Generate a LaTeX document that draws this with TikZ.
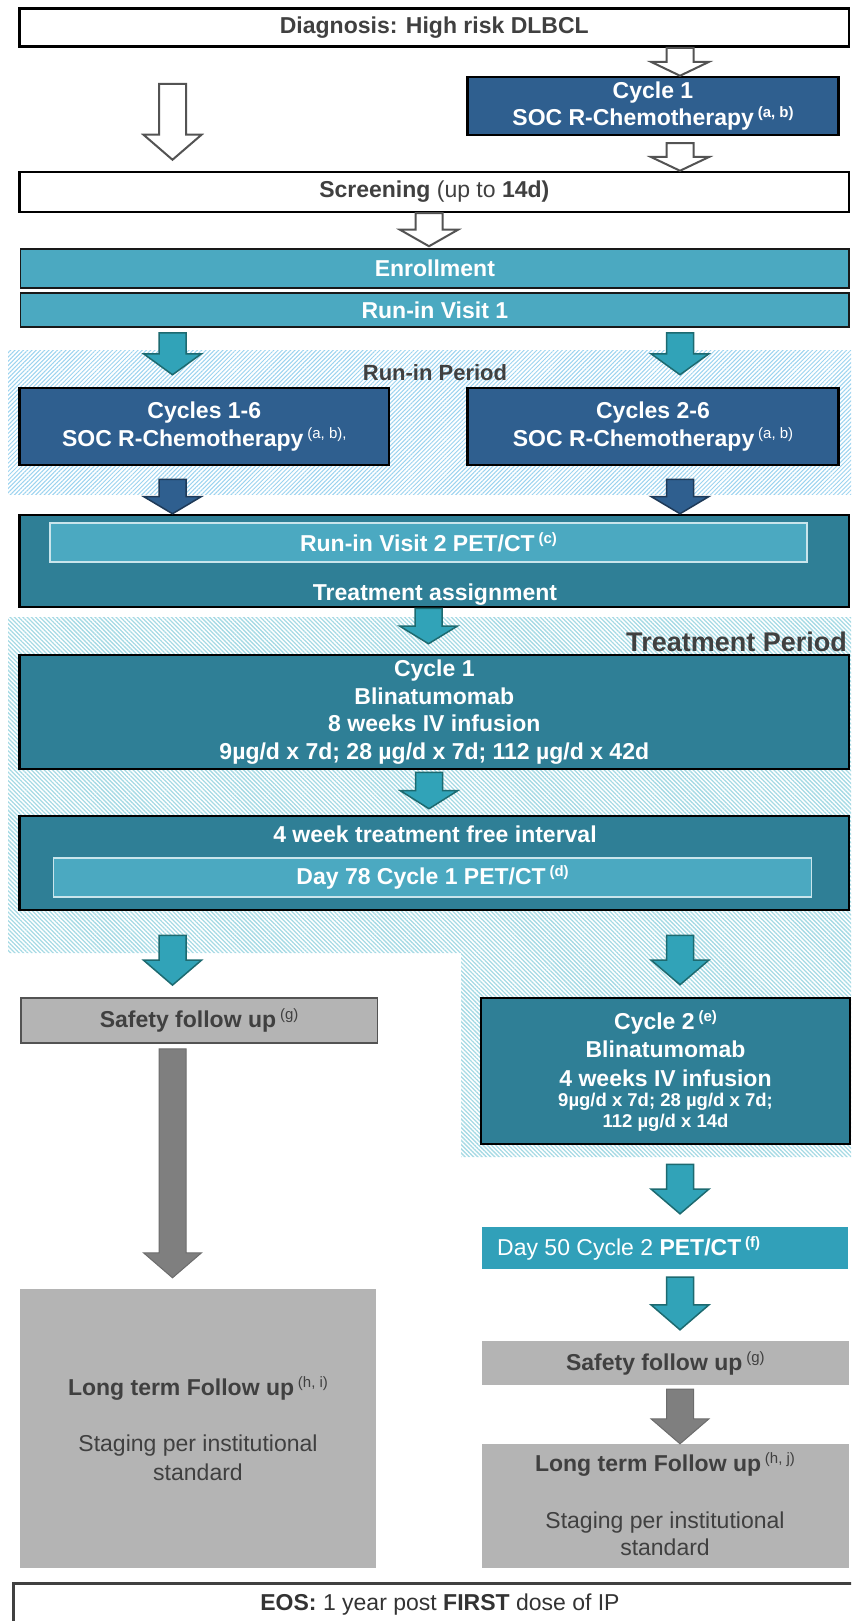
\documentclass[tikz,border=0pt]{standalone}
\usepackage{fontspec}
\setmainfont{Liberation Sans}
\usetikzlibrary{calc,patterns.meta}

\definecolor{socblue}{HTML}{2F5F8F}
\definecolor{tealdk}{HTML}{2F7F96}
\definecolor{teallt}{HTML}{4BA9C1}
\definecolor{tealpet}{HTML}{31A0B9}
\definecolor{arrteal}{HTML}{31A3B8}
\definecolor{arrtealedge}{HTML}{1D6A70}
\definecolor{arrblueedge}{HTML}{1E3A58}
\definecolor{boxgray}{HTML}{B4B4B4}
\definecolor{arrgray}{HTML}{7F7F7F}
\definecolor{txtgray}{HTML}{404040}
\definecolor{hatchrun}{HTML}{9CD3EF}
\definecolor{hatchtrt}{HTML}{A6DAE4}

% footnote marks
\newcommand\sups[1]{\raisebox{8pt}{\fontsize{15}{15}\selectfont #1}}

% block arrow from a top point down to a tip point
\newcommand\blockarrow[3][]{%
  \path #2 coordinate (ba-s);
  \path #3 coordinate (ba-e);
  \draw[#1] let \p1=(ba-s), \p2=(ba-e), \n1={min(25,(\y1-\y2)/2)} in
    (\x1-13.5pt,\y1) -- (\x1+13.5pt,\y1) -- (\x1+13.5pt,\y2+\n1*1pt)
    -- (\x1+29pt,\y2+\n1*1pt) -- (\x2,\y2) -- (\x1-29pt,\y2+\n1*1pt)
    -- (\x1-13.5pt,\y2+\n1*1pt) -- cycle;
}

\tikzset{
  base/.style={font=\fontsize{23}{27.7}\selectfont\bfseries, align=center, inner sep=0pt},
  whitebox/.style={base, draw=black, line width=2.5pt, fill=white, text=txtgray},
  bluebox/.style={base, draw=black, line width=2.5pt, fill=socblue, text=white},
  tealbox/.style={base, draw=black, line width=2.5pt, fill=tealdk, text=white},
  ltbox/.style={base, draw=black!90, line width=1.5pt, fill=teallt, text=white},
  innerbox/.style={base, draw=white!70!teallt, line width=1.2pt, fill=teallt, text=white},
  graybox/.style={base, fill=boxgray, text=txtgray},
  wtext/.style={base, text=white},
  gtext/.style={base, text=txtgray},
  lbl/.style={base, text=txtgray, font=\fontsize{22}{26}\selectfont\bfseries},
  hollowarrow/.style={fill=white, draw=txtgray!90, line width=2pt},
  tealarrow/.style={fill=arrteal, draw=arrtealedge, line width=1.5pt},
  bluearrow/.style={fill=socblue, draw=arrblueedge, line width=1.5pt},
  grayarrow/.style={fill=arrgray, draw=arrgray!85!black, line width=1pt},
}

\begin{document}
\begin{tikzpicture}[x=1pt,y=-1pt]
\clip (0,0) rectangle (851,1621);
\useasboundingbox (0,0) rectangle (851,1621);

% hatched period backgrounds
\fill[pattern={Lines[angle=45,distance=3pt,line width=1pt]}, pattern color=hatchrun]
  (8,350) rectangle (851,494);
\fill[pattern={Lines[angle=-45,distance=3pt,line width=1.3pt]}, pattern color=hatchtrt]
  (8,617) -- (851,617) -- (851,1157) -- (461,1157) -- (461,953) -- (8,953) -- cycle;

% diagnosis and screening
\node[whitebox, minimum width=829.4pt, minimum height=38.4pt] (diag) at (434.3,27.5)
  {Diagnosis: High risk DLBCL};
\node[bluebox, minimum width=371pt, minimum height=58pt] (cyc1a) at (653,106)
  {Cycle 1\\SOC R-Chemotherapy\,\sups{(a, b)}};
\node[whitebox, minimum width=829.4pt, minimum height=40pt] (screen) at (434.3,192)
  {Screening {\mdseries(up to} 14d)};

\node[ltbox, minimum width=828.3pt, minimum height=39pt] (enroll) at (434.85,268.5) {Enrollment};
\node[ltbox, minimum width=828.3pt, minimum height=34pt] (rv1) at (434.85,310) {Run-in Visit 1};

% run-in period
\node[lbl] (runinlbl) at (435,373) {Run-in Period};
\node[bluebox, minimum width=369.4pt, minimum height=77pt] (cyc16) at (204.3,426.5)
  {Cycles 1-6\\SOC R-Chemotherapy\,\sups{\mdseries(a, b),}};
\node[bluebox, minimum width=371pt, minimum height=77pt] (cyc26) at (653,426.5)
  {Cycles 2-6\\SOC R-Chemotherapy\,\sups{\mdseries(a, b)}};

\node[tealbox, minimum width=829.4pt, minimum height=92pt] (rv2) at (434.3,561) {};
\node[innerbox, minimum width=757pt, minimum height=39pt] (rv2pet) at (428.5,542.5)
  {Run-in Visit 2 PET/CT\,\sups{(c)}};
\node[wtext] (assign) at (435,595) {Treatment assignment};

% treatment period
\node[lbl, font=\fontsize{27}{30}\selectfont\bfseries, anchor=east] (tplbl) at (847,642) {Treatment Period};
\node[tealbox, minimum width=829.4pt, minimum height=114pt] (blin1) at (434.3,712)
  {Cycle 1\\Blinatumomab\\8 weeks IV infusion\\9µg/d x 7d; 28 µg/d x 7d; 112 µg/d x 42d};
\node[tealbox, minimum width=829.4pt, minimum height=94pt] (tfi) at (434.3,863) {};
\node[wtext] (tfitxt) at (435,834) {4 week treatment free interval};
\node[innerbox, minimum width=758.2pt, minimum height=39pt] (d78) at (432.6,877.5)
  {Day 78 Cycle 1 PET/CT\,\sups{(d)}};

% left branch
\node[graybox, draw=txtgray!90, line width=1.8pt, minimum width=356.8pt, minimum height=45pt]
  (safe1) at (199.1,1020.5) {Safety follow up\,\sups{\mdseries(g)}};
\node[graybox, minimum width=356pt, minimum height=279pt] (lt1) at (198,1428.5) {};
\node[gtext] (lt1a) at (198,1388) {Long term Follow up\,\sups{\mdseries(h, i)}};
\node[gtext, font=\fontsize{23}{29}\selectfont] (lt1b) at (198,1457.5) {Staging per institutional\\standard};

% right branch
\node[tealbox, minimum width=369pt, minimum height=146pt] (cyc2) at (665.5,1071) {};
\node[wtext, font=\fontsize{23}{28.5}\selectfont\bfseries] (cyc2a) at (665.5,1048.5)
  {Cycle 2\,\sups{(e)}\\Blinatumomab\\4 weeks IV infusion};
\node[wtext, font=\fontsize{18.5}{21}\selectfont\bfseries] (cyc2b) at (665.5,1112.5)
  {9µg/d x 7d; 28 µg/d x 7d;\\112 µg/d x 14d};
\node[fill=tealpet, minimum width=366pt, minimum height=42pt, inner sep=0pt] (d50) at (665,1248) {};
\node[wtext, anchor=west] (d50txt) at (497,1248) {{\mdseries Day 50 Cycle 2} PET/CT\,\sups{(f)}};
\node[graybox, minimum width=367.3pt, minimum height=44pt] (safe2) at (665.35,1363)
  {Safety follow up\,\sups{\mdseries(g)}};
\node[graybox, minimum width=367.3pt, minimum height=124pt] (lt2) at (665.35,1506) {};
\node[gtext] (lt2a) at (665,1464) {Long term Follow up\,\sups{\mdseries(h, j)}};
\node[gtext, font=\fontsize{23}{27}\selectfont] (lt2b) at (665,1533.5) {Staging per institutional\\standard};

% end of study
\node[draw=txtgray, line width=3pt, fill=white, minimum width=870pt, minimum height=80pt,
  inner sep=0pt, anchor=north west] (eos) at (12,1582) {};
\node[base, text=black!80] (eostxt) at (440,1605) {EOS: {\mdseries 1 year post} FIRST {\mdseries dose of IP}};

% connectors
\blockarrow[hollowarrow]{(680,0 |- diag.south)}{(680,0 |- cyc1a.north)}
\blockarrow[hollowarrow]{($(172.5,0 |- diag.south)+(0,36)$)}{($(172.5,0 |- screen.north)+(0,-11)$)}
\blockarrow[hollowarrow]{($(680,0 |- cyc1a.south)+(0,7)$)}{(680,0 |- screen.north)}
\blockarrow[hollowarrow]{(429,0 |- screen.south)}{($(429,0 |- enroll.north)+(0,-2)$)}

\blockarrow[tealarrow]{($(172.5,0 |- rv1.south)+(0,5)$)}{($(172.5,0 |- cyc16.north)+(0,-12)$)}
\blockarrow[tealarrow]{($(680,0 |- rv1.south)+(0,5)$)}{($(680,0 |- cyc26.north)+(0,-12)$)}

\blockarrow[bluearrow]{($(172.5,0 |- cyc16.south)+(0,13)$)}{(172.5,0 |- rv2.north)}
\blockarrow[bluearrow]{($(680,0 |- cyc26.south)+(0,13)$)}{(680,0 |- rv2.north)}

\blockarrow[tealarrow]{(428.5,0 |- rv2.south)}{($(428.5,0 |- blin1.north)+(0,-10)$)}
\blockarrow[tealarrow]{($(429,0 |- blin1.south)+(0,2)$)}{($(429,0 |- tfi.north)+(0,-6)$)}

\blockarrow[tealarrow]{($(172.5,0 |- tfi.south)+(0,24)$)}{($(172.5,0 |- safe1.north)+(0,-12)$)}
\blockarrow[tealarrow]{($(680,0 |- tfi.south)+(0,24)$)}{($(680,0 |- cyc2.north)+(0,-12)$)}

\blockarrow[grayarrow]{($(172.5,0 |- safe1.south)+(0,5)$)}{($(172.5,0 |- lt1.north)+(0,-11)$)}

\blockarrow[tealarrow]{($(680,0 |- cyc2.south)+(0,19)$)}{($(680,0 |- d50.north)+(0,-13)$)}
\blockarrow[tealarrow]{($(680,0 |- d50.south)+(0,8)$)}{($(680,0 |- safe2.north)+(0,-11)$)}
\blockarrow[grayarrow]{($(680,0 |- safe2.south)+(0,4)$)}{(680,0 |- lt2.north)}
\end{tikzpicture}
\end{document}
